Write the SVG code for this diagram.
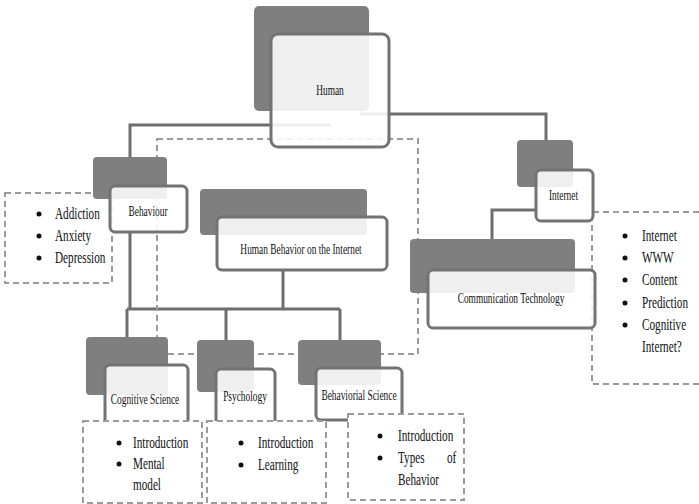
<svg xmlns="http://www.w3.org/2000/svg" width="699" height="504" viewBox="0 0 699 504">
<style>
.dark{fill:#7f7f7f}
.box{fill:#ffffff;fill-opacity:0.88;stroke:#737373;stroke-width:3}
.dash{fill:none;stroke:#9a9a9a;stroke-width:2;stroke-dasharray:6 4}
.dashw{fill:#ffffff;stroke:#9a9a9a;stroke-width:2;stroke-dasharray:6 4}
.conn{fill:none;stroke:#6e6e6e;stroke-width:3}
.lbl{font-family:"Liberation Serif","Times New Roman",serif;font-size:14px;fill:#111111;text-anchor:middle}
.item{font-family:"Liberation Serif","Times New Roman",serif;font-size:16px;fill:#111111}
.bul{fill:#111111}
</style>
<rect width="699" height="504" fill="#ffffff"/>
<g id="connectors">
<path class="conn" d="M330,125 H130 V157"/>
<path class="conn" d="M360,114 H546 V141"/>
<path class="conn" d="M536,210 H492 V239"/>
<path class="conn" d="M130,232 V309"/>
<path class="conn" d="M283,270 V309"/>
<path class="conn" d="M127,309 H340"/>
<path class="conn" d="M127,309 V337"/>
<path class="conn" d="M226,309 V340"/>
<path class="conn" d="M340,309 V340"/>
</g>
<g id="frame-internet-area">
<rect class="dash" x="157" y="139" width="261" height="215"/>
</g>
<g id="list-behaviour">
<rect class="dash" x="5" y="193" width="107" height="90"/>
<circle class="bul" cx="39" cy="214" r="2.5"/>
<circle class="bul" cx="39" cy="236" r="2.5"/>
<circle class="bul" cx="39" cy="258" r="2.5"/>
<text class="item" transform="translate(55 219) scale(0.7 1)">Addiction</text>
<text class="item" transform="translate(55 241) scale(0.7 1)">Anxiety</text>
<text class="item" transform="translate(55 263) scale(0.7 1)">Depression</text>
</g>
<g id="list-internet">
<path class="dash" d="M699,212 H592 V384 H699"/>
<circle class="bul" cx="625" cy="236" r="2.5"/>
<circle class="bul" cx="625" cy="258" r="2.5"/>
<circle class="bul" cx="625" cy="280" r="2.5"/>
<circle class="bul" cx="625" cy="303" r="2.5"/>
<circle class="bul" cx="625" cy="325" r="2.5"/>
<text class="item" transform="translate(642 241) scale(0.7 1)">Internet</text>
<text class="item" transform="translate(642 263) scale(0.7 1)">WWW</text>
<text class="item" transform="translate(642 285) scale(0.7 1)">Content</text>
<text class="item" transform="translate(642 308) scale(0.7 1)">Prediction</text>
<text class="item" transform="translate(642 330) scale(0.7 1)">Cognitive</text>
<text class="item" transform="translate(642 352) scale(0.7 1)">Internet?</text>
</g>
<g id="node-human">
<rect class="dark" x="254" y="6" width="115" height="105" rx="5"/>
<rect class="box" x="271" y="34" width="118" height="113" rx="7"/>
<text class="lbl" transform="translate(330 95) scale(0.67 1)">Human</text>
</g>
<g id="node-behaviour">
<rect class="dark" x="93" y="157" width="74" height="42" rx="4"/>
<rect class="box" x="110" y="186" width="77" height="46" rx="5"/>
<text class="lbl" transform="translate(148 216) scale(0.67 1)">Behaviour</text>
</g>
<g id="node-hbi">
<rect class="dark" x="200" y="189" width="167" height="46" rx="4"/>
<rect class="box" x="217" y="217" width="170" height="53" rx="5"/>
<text class="lbl" transform="translate(301 254) scale(0.67 1)">Human Behavior on the Internet</text>
</g>
<g id="node-internet">
<rect class="dark" x="517" y="140" width="56" height="47" rx="4"/>
<rect class="box" x="536" y="170" width="57" height="51" rx="5"/>
<text class="lbl" transform="translate(563.5 200) scale(0.67 1)">Internet</text>
</g>
<g id="node-comm">
<rect class="dark" x="410" y="239" width="165" height="54" rx="4"/>
<rect class="box" x="428" y="270" width="167" height="58" rx="5"/>
<text class="lbl" transform="translate(511 303) scale(0.67 1)">Communication Technology</text>
</g>
<g id="node-cognitive">
<rect class="dark" x="86" y="337" width="82" height="58" rx="4"/>
<rect class="box" x="105" y="365" width="83" height="62" rx="5"/>
<text class="lbl" transform="translate(145 404) scale(0.67 1)">Cognitive Science</text>
</g>
<g id="node-psychology">
<rect class="dark" x="197" y="340" width="57" height="52" rx="4"/>
<rect class="box" x="216" y="369" width="59" height="58" rx="5"/>
<text class="lbl" transform="translate(245 401) scale(0.67 1)">Psychology</text>
</g>
<g id="node-behavioral">
<rect class="dark" x="298" y="340" width="83" height="45" rx="4"/>
<rect class="box" x="316" y="368" width="86" height="52" rx="5"/>
<text class="lbl" transform="translate(359 400) scale(0.67 1)">Behaviorial Science</text>
</g>
<g id="list-cognitive">
<rect class="dashw" x="83" y="421" width="119" height="82"/>
<circle class="bul" cx="119" cy="443" r="2.5"/>
<circle class="bul" cx="119" cy="464" r="2.5"/>
<text class="item" transform="translate(133 448) scale(0.7 1)">Introduction</text>
<text class="item" transform="translate(133 469) scale(0.7 1)">Mental</text>
<text class="item" transform="translate(133 490) scale(0.7 1)">model</text>
</g>
<g id="list-psychology">
<rect class="dashw" x="207" y="421" width="119" height="82"/>
<circle class="bul" cx="241" cy="443" r="2.5"/>
<circle class="bul" cx="241" cy="465" r="2.5"/>
<text class="item" transform="translate(258 448) scale(0.7 1)">Introduction</text>
<text class="item" transform="translate(258 470) scale(0.7 1)">Learning</text>
</g>
<g id="list-behavioral">
<rect class="dashw" x="348" y="414" width="116" height="86"/>
<circle class="bul" cx="380" cy="436" r="2.5"/>
<circle class="bul" cx="380" cy="458" r="2.5"/>
<text class="item" transform="translate(398 441) scale(0.7 1)">Introduction</text>
<text class="item" transform="translate(398 463) scale(0.7 1)">Types</text>
<text class="item" transform="translate(447 463) scale(0.7 1)">of</text>
<text class="item" transform="translate(398 485) scale(0.7 1)">Behavior</text>
</g>
</svg>
